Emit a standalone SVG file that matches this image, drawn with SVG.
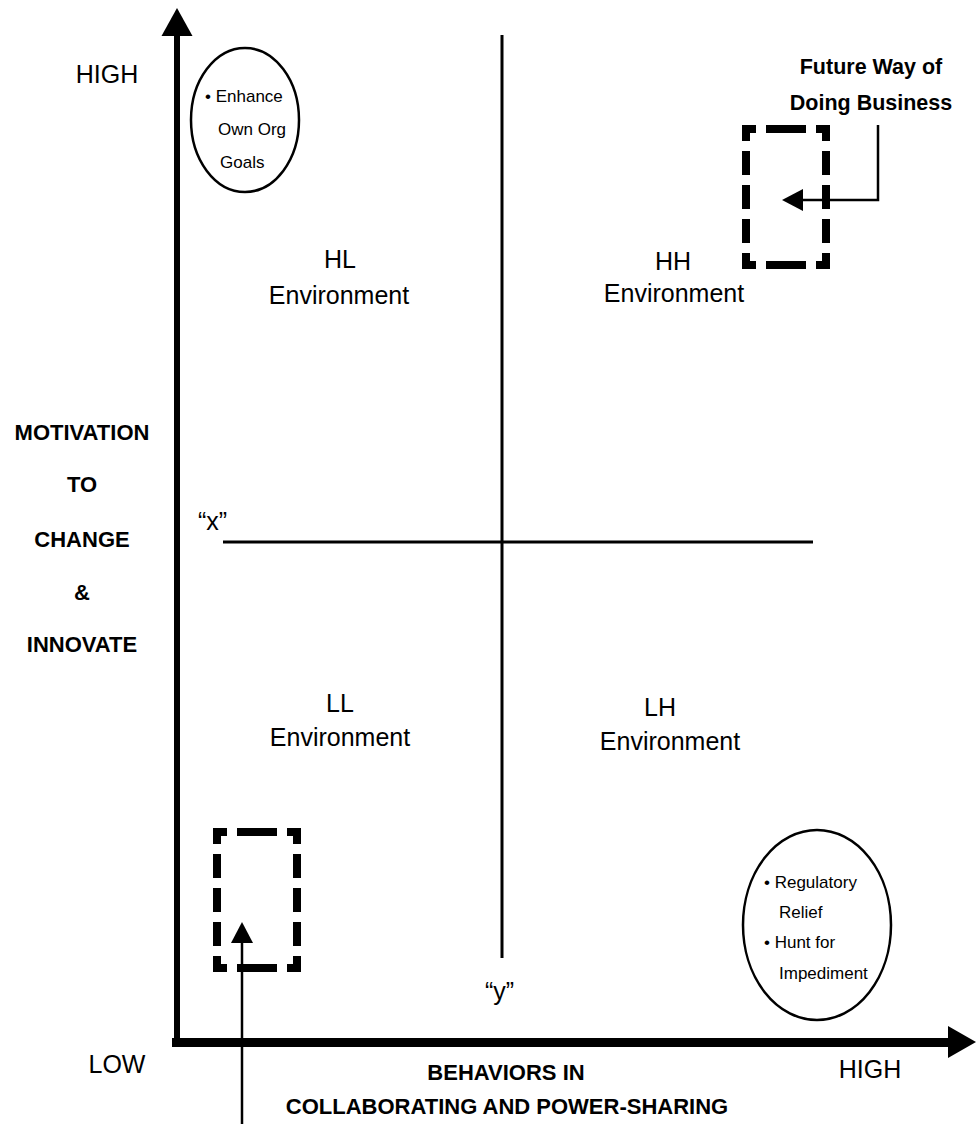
<svg xmlns="http://www.w3.org/2000/svg" width="976" height="1124" viewBox="0 0 976 1124">
<style>
text{font-family:"Liberation Sans",Arial,Helvetica,sans-serif;fill:#000}
.lg{font-size:25px}
.bd{font-size:22px;font-weight:bold}
.sm{font-size:17px}
.c{text-anchor:middle}
.thin{stroke:#000;stroke-width:3;fill:none}
.arr{stroke:#000;stroke-width:2.5;fill:none}
.ell{stroke:#000;stroke-width:2.5;fill:none}
.dash{stroke:#000;stroke-width:8;fill:none;stroke-linecap:butt;stroke-linejoin:miter}
</style>
<defs>
<path id="dbox" class="dash" d="M0,12 V0 H10 M20,0 H60 M70,0 H80 V12 M80,22 V46 M80,56 V80 M80,90 V114 M80,124 V136 H70 M60,136 H20 M10,136 H0 V124 M0,114 V90 M0,80 V56 M0,46 V22"/>
</defs>
<g id="axes">
<rect x="174" y="33" width="6" height="1014" fill="#000"/>
<polygon points="177,8 161.5,36 192.5,36" fill="#000"/>
<rect x="172" y="1038" width="780" height="9" fill="#000"/>
<polygon points="976,1042 948,1026 948,1058" fill="#000"/>
</g>
<g id="dividers">
<line class="thin" x1="502" y1="35" x2="502" y2="958"/>
<line class="thin" x1="223" y1="542" x2="813" y2="542"/>
</g>
<g id="axis-labels">
<text class="lg c" x="107" y="83">HIGH</text>
<text class="lg c" x="117" y="1073">LOW</text>
<text class="lg c" x="870" y="1078">HIGH</text>
<text class="bd c" x="82" y="440">MOTIVATION</text>
<text class="bd c" x="82" y="492">TO</text>
<text class="bd c" x="82" y="547">CHANGE</text>
<text class="bd c" x="82" y="600">&amp;</text>
<text class="bd c" x="82" y="652">INNOVATE</text>
<text class="bd c" x="506" y="1080">BEHAVIORS IN</text>
<text class="bd c" x="507" y="1114">COLLABORATING AND POWER-SHARING</text>
<text class="lg" x="198" y="530">“x”</text>
<text class="lg" x="485" y="1000">“y”</text>
</g>
<g id="hl">
<text class="lg c" x="340" y="268">HL</text>
<text class="lg c" x="339" y="304">Environment</text>
</g>
<g id="hh">
<text class="lg c" x="673" y="270">HH</text>
<text class="lg c" x="674" y="302">Environment</text>
</g>
<g id="ll">
<text class="lg c" x="340" y="712">LL</text>
<text class="lg c" x="340" y="746">Environment</text>
</g>
<g id="lh">
<text class="lg c" x="660" y="716">LH</text>
<text class="lg c" x="670" y="750">Environment</text>
</g>
<g id="enhance">
<ellipse class="ell" cx="245" cy="120" rx="54" ry="72"/>
<text class="sm" x="205" y="102">• Enhance</text>
<text class="sm" x="218" y="135">Own Org</text>
<text class="sm" x="220" y="168">Goals</text>
</g>
<g id="regulatory">
<ellipse class="ell" cx="817" cy="925" rx="74" ry="95"/>
<text class="sm" x="764" y="888">• Regulatory</text>
<text class="sm" x="779" y="918">Relief</text>
<text class="sm" x="764" y="948">• Hunt for</text>
<text class="sm" x="779" y="979">Impediment</text>
</g>
<g id="future">
<text class="bd c" x="871" y="74" style="font-size:21.5px">Future Way of</text>
<text class="bd c" x="871" y="110" style="font-size:21.5px">Doing Business</text>
<use href="#dbox" x="746" y="129"/>
</g>
<g id="current">
<use href="#dbox" x="217" y="832"/>
</g>
<g id="connectors">
<polyline class="arr" points="878,125 878,200 800,200"/>
<polygon points="782,200 803,189 803,211" fill="#000"/>
<line class="arr" x1="242" y1="1124" x2="242" y2="940"/>
<polygon points="242,922 231,943 253,943" fill="#000"/>
</g>
</svg>
